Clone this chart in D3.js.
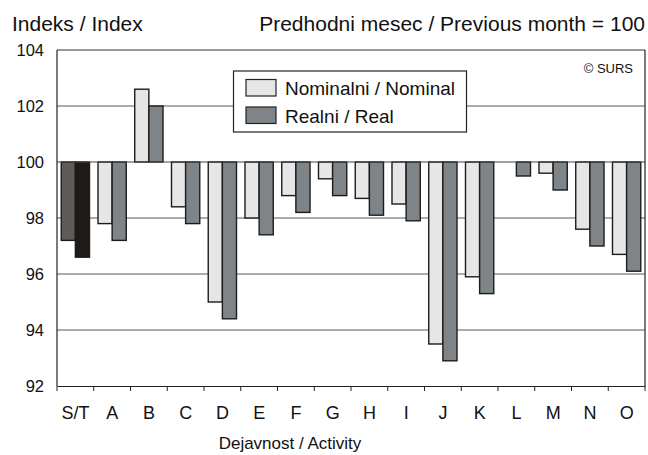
<!DOCTYPE html>
<html>
<head>
<meta charset="utf-8">
<script src="https://cdn.jsdelivr.net/npm/d3@7"></script>
<style>
  body { margin: 0; background: #fff; }
  svg { display: block; font-family: "Liberation Sans", Arial, sans-serif; }
</style>
</head>
<body>
<svg id="chart" width="648" height="455"></svg>
<script>
const categories = ["S/T","A","B","C","D","E","F","G","H","I","J","K","L","M","N","O"];
const nominal = [97.2, 97.8, 102.6, 98.4, 95.0, 98.0, 98.8, 99.4, 98.7, 98.5, 93.5, 95.9, 100.0, 99.6, 97.6, 96.7];
const real    = [96.6, 97.2, 102.0, 97.8, 94.4, 97.4, 98.2, 98.8, 98.1, 97.9, 92.9, 95.3, 99.5, 99.0, 97.0, 96.1];
const yTicks = [92, 94, 96, 98, 100, 102, 104];
const seriesNames = ["Nominalni / Nominal", "Realni / Real"];

const svg = d3.select("#chart");
const L = 57, R = 645, T = 50, B = 386;

const x = d3.scaleBand().domain(categories).range([L, R]).padding(0);
const xs = d3.scaleBand().domain(["nom", "real"]).range([0, x.bandwidth()]).paddingInner(0).paddingOuter(0.3);
const y = d3.scaleLinear().domain([92, 104]).range([B, T]);

svg.append("rect").attr("width", 648).attr("height", 455).attr("fill", "#fff");

// gridlines
svg.append("g").selectAll("line").data(yTicks.filter(v => v !== 92 && v !== 100 && v !== 104)).join("line")
  .attr("x1", L).attr("x2", R).attr("y1", d => y(d)).attr("y2", d => y(d))
  .attr("stroke", "#8f8f8f").attr("stroke-width", 1.6);

// top border
svg.append("line").attr("x1", L).attr("x2", R).attr("y1", y(104)).attr("y2", y(104))
  .attr("stroke", "#333").attr("stroke-width", 1.2);

// bars
const colors = {
  nom: categories.map(c => c === "S/T" ? "#5e5b58" : "#e6e6e6"),
  real: categories.map(c => c === "S/T" ? "#1f1b18" : "#7e8487")
};
const data = [];
categories.forEach((c, i) => {
  data.push({ c, k: "nom", v: nominal[i], fill: colors.nom[i] });
  data.push({ c, k: "real", v: real[i], fill: colors.real[i] });
});
svg.append("g").selectAll("rect").data(data.filter(d => d.v !== 100)).join("rect")
  .attr("x", d => x(d.c) + xs(d.k))
  .attr("width", xs.bandwidth())
  .attr("y", d => Math.min(y(d.v), y(100)))
  .attr("height", d => Math.abs(y(d.v) - y(100)))
  .attr("fill", d => d.fill)
  .attr("stroke", "#1c1c1c").attr("stroke-width", 1.4);

// 100 baseline
svg.append("line").attr("x1", L).attr("x2", R).attr("y1", y(100)).attr("y2", y(100))
  .attr("stroke", "#444").attr("stroke-width", 1);

// left & right border
svg.append("line").attr("x1", L).attr("x2", L).attr("y1", T).attr("y2", B).attr("stroke", "#222").attr("stroke-width", 1.2);
svg.append("line").attr("x1", R).attr("x2", R).attr("y1", T).attr("y2", B).attr("stroke", "#222").attr("stroke-width", 1.2);

// bottom axis
const xAxis = d3.axisBottom(x).tickSize(0).tickPadding(20);
const gx = svg.append("g").attr("transform", `translate(0,${B})`).call(xAxis);
gx.select(".domain").attr("stroke", "#222").attr("stroke-width", 1.2);
gx.selectAll("text").attr("font-size", 18).attr("fill", "#111").attr("font-family", "Liberation Sans, Arial, sans-serif");
// boundary ticks
const bounds = categories.map(c => x(c)).concat([R]);
gx.append("g").selectAll("line").data(bounds).join("line")
  .attr("x1", d => d).attr("x2", d => d).attr("y1", 0).attr("y2", 5)
  .attr("stroke", "#222").attr("stroke-width", 1);

// y axis labels
const yAxis = d3.axisLeft(y).tickValues(yTicks).tickSize(0).tickPadding(13);
const gy = svg.append("g").attr("transform", `translate(${L},0)`).call(yAxis);
gy.select(".domain").remove();
gy.selectAll("text").attr("font-size", 16.5).attr("fill", "#111").attr("font-family", "Liberation Sans, Arial, sans-serif");

// legend
const lg = svg.append("g");
lg.append("rect").attr("x", 233.5).attr("y", 71).attr("width", 233).attr("height", 61)
  .attr("fill", "#fff").attr("stroke", "#222").attr("stroke-width", 1.2);
const legendFills = ["#e6e6e6", "#7e8487"];
seriesNames.forEach((s, i) => {
  lg.append("rect").attr("x", 246).attr("y", 79.5 + i * 27.5).attr("width", 30).attr("height", 16.5)
    .attr("fill", legendFills[i]).attr("stroke", "#222").attr("stroke-width", 1.2);
  lg.append("text").attr("x", 285).attr("y", 95 + i * 27.5).attr("font-size", 19).attr("fill", "#111").text(s);
});

// titles
svg.append("text").attr("x", 12).attr("y", 31).attr("font-size", 21).attr("fill", "#111").text("Indeks / Index");
svg.append("text").attr("x", 645).attr("y", 31).attr("text-anchor", "end").attr("font-size", 21).attr("fill", "#111")
  .text("Predhodni mesec / Previous month = 100");
svg.append("text").attr("x", 633).attr("y", 73).attr("text-anchor", "end").attr("font-size", 13).attr("fill", "#111").text("© SURS");
svg.append("text").attr("x", 290).attr("y", 449).attr("text-anchor", "middle").attr("font-size", 17).attr("fill", "#111")
  .text("Dejavnost / Activity");
</script>
</body>
</html>
